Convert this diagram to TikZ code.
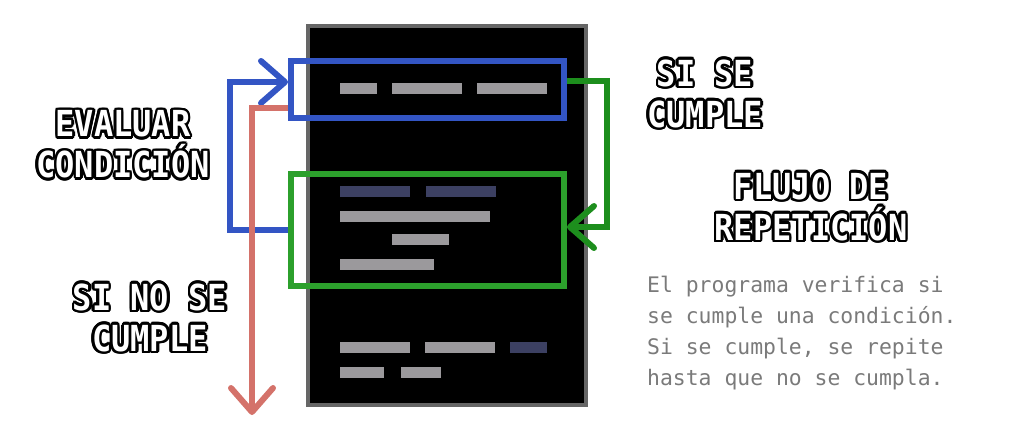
\documentclass[tikz,border=0pt]{standalone}
\usepackage{fontspec}
\usepackage[copies]{contour}
\usetikzlibrary{arrows.meta}

\newfontfamily\pixfont{DejaVu Sans Mono}
\newfontfamily\notefont{DejaVu Sans Mono}
\contourlength{2.5pt}

\definecolor{panelgray}{HTML}{666666}
\definecolor{codegray}{HTML}{9B999C}
\definecolor{codeblue}{HTML}{3C4062}
\definecolor{condblue}{HTML}{3355C4}
\definecolor{bodygreen}{HTML}{2CA02C}
\definecolor{loopgreen}{HTML}{1D8E1D}
\definecolor{exitred}{HTML}{D4726A}
\definecolor{notegray}{HTML}{7A7A7A}

% outlined pixel-style word
\newcommand{\pixline}[1]{\scalebox{1}[1.12]{\contour{black}{#1}}}

\tikzset{
  pixlabel/.style={text=white, align=center, font=\pixfont\bfseries\fontsize{32}{41}\selectfont},
  chev/.style={-{Straight Barb[length=24pt,width=42pt,round]}},
}

\begin{document}
\begin{tikzpicture}[x=1pt,y=-1pt]
        \useasboundingbox (0,0) rectangle (1024,434);

        \node (panel) at (447,215.5) [draw=panelgray, line width=4pt, fill=black, minimum width=278pt, minimum height=379pt] {};

        % code lines
        \foreach \xa/\xb/\ya in {340/377/83, 392/462/83, 477/547/83, 340/490/211, 392/449/234, 340/434/259, 340/410/342, 425/495/342, 340/384/367, 401/441/367}
          \fill[codegray] (\xa,\ya) rectangle (\xb,\ya+11);
        \foreach \xa/\xb/\ya in {340/410/186, 426/496/186, 510/547/342}
          \fill[codeblue] (\xa,\ya) rectangle (\xb,\ya+11);

        \node (cond) at (427.5,89.5) [draw=condblue, line width=6pt, minimum width=273pt, minimum height=57pt] {};
        \node (body) at (427.5,230) [draw=bodygreen, line width=6pt, minimum width=273pt, minimum height=112pt] {};
        \coordinate (out) at (252,415);

        \draw [condblue, line width=6pt, chev] (body.west) -- ++(-58,0) |- ([yshift=7.5pt]cond.west);
        \draw [exitred, line width=6pt, chev] ([yshift=-18pt]cond.west) -| (out);
        \draw [loopgreen, line width=6pt, chev] ([yshift=9pt]cond.east) -- ++(40,0) |- ([yshift=3pt]body.east);

        \node (evalua) at (123,146) [pixlabel] {\pixline{EVALUAR}\\\pixline{CONDICIÓN}};
        \node (sicumple) at (705,95) [pixlabel] {\pixline{SI SE}\\\pixline{CUMPLE}};
        \node (titulo) at (811,208) [pixlabel] {\pixline{FLUJO DE}\\\pixline{REPETICIÓN}};
        \node (nocumple) at (150,319) [pixlabel] {\pixline{SI NO SE}\\\pixline{CUMPLE}};

        \node (nota) at (647,276) [anchor=north west, inner sep=0pt, align=left, text=notegray, font=\notefont\fontsize{21.4}{31}\selectfont]
          {El programa verifica si\\se cumple una condición.\\Si se cumple, se repite\\hasta que no se cumpla.};
      \end{tikzpicture}
\end{document}
